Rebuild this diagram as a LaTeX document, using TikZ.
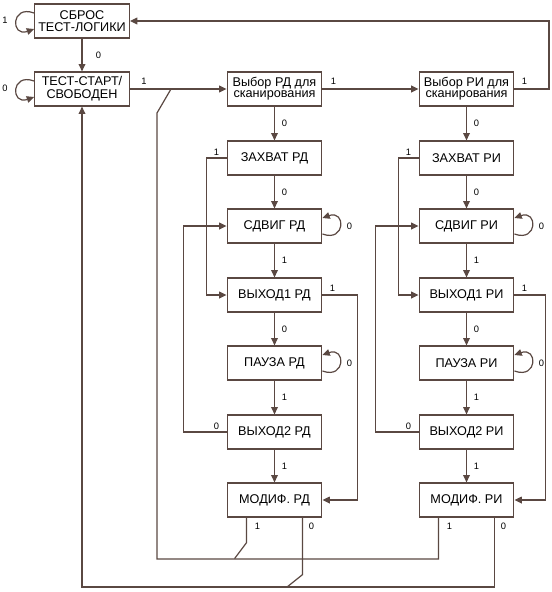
\documentclass[tikz,border=0pt]{standalone}
\usepackage{fontspec}
\setmainfont{Liberation Sans}
\usetikzlibrary{arrows.meta,calc,positioning}
\definecolor{wirecol}{RGB}{90,72,66}

\begin{document}
\begin{tikzpicture}[x=0.75pt,y=0.75pt]
      \tikzset{state/.style={draw=wirecol, line width=0.9pt,
          minimum width=71pt, minimum height=25.5pt,
          inner sep=0pt, align=center,
          font=\fontsize{9.5}{9.5}\selectfont},
        scan state/.style={state, font=\fontsize{9.5}{8}\selectfont},
        lbl/.style={inner sep=0pt, font=\fontsize{7}{7}\selectfont},
        wire/.style={draw=wirecol, line width=0.9pt},
        go/.style={wire, -{Triangle[length=5.5pt,width=5pt]}}
      }
      \useasboundingbox (0,0) rectangle (552,-592);
      \node [state] (reset) at (82,-21) {СБРОС\\ТЕСТ-ЛОГИКИ};
      \node [state] (idle) at (82,-89) {ТЕСТ-СТАРТ/\\СВОБОДЕН};
      \node [scan state] (seldr) at (274.5,-89) {Выбор РД для\\сканирования};
      \node [scan state] (selir) at (466.5,-89) {Выбор РИ для\\сканирования};

      \draw [go] ([yshift=6pt]reset.west) to[out=160,in=200,looseness=4] ([yshift=-6pt]reset.west);
      \node [lbl] (lreset) at (5,-20) {1};
      \draw [go] ([yshift=6pt]idle.west) to[out=160,in=200,looseness=4] ([yshift=-6pt]idle.west);
      \node [lbl] (lidle) at (5,-88) {0};
      \draw [go] (reset) -- (idle) node [lbl, midway, right=10pt] {0};
      \draw [go] (idle) -- (seldr);
      \node [lbl] (lgo) at ($(idle.east)+(14,8)$) {1};
      \draw [go] (seldr) -- (selir);
      \node [lbl] (lsel) at ($(seldr.east)+(11,8)$) {1};
      \coordinate (top) at (549,-21);
      \draw [go] (selir.east) -| (top) -- (reset.east);
      \node [lbl] (lreturn) at ($(selir.east)+(10,8)$) {1};

      \foreach \c/\x/\r/\e in {dr/274.5/РД/35, ir/466.5/РИ/31} {
        \node [state] (cap\c) at (\x,-158) {ЗАХВАТ \r};
        \node [state] (sh\c) at (\x,-226) {СДВИГ \r};
        \node [state] (exa\c) at (\x,-295) {ВЫХОД1 \r};
        \node [state] (pa\c) at (\x,-363) {ПАУЗА \r};
        \node [state] (exb\c) at (\x,-432) {ВЫХОД2 \r};
        \node [state] (up\c) at (\x,-500) {МОДИФ. \r};

        \draw [go] (sel\c) -- (cap\c) node [lbl, midway, right=5pt] {0};
        \draw [go] (cap\c) -- (sh\c) node [lbl, midway, right=5pt] {0};
        \draw [go] (sh\c) -- (exa\c) node [lbl, midway, right=5pt] {1};
        \draw [go] (exa\c) -- (pa\c) node [lbl, midway, right=5pt] {0};
        \draw [go] (pa\c) -- (exb\c) node [lbl, midway, right=5pt] {1};
        \draw [go] (exb\c) -- (up\c) node [lbl, midway, right=5pt] {1};

        \draw [go] (cap\c.west) -- ++(-20,0) |- (exa\c.west);
        \node [lbl] (lcap\c) at ($(cap\c.west)+(-10,6)$) {1};
        \draw [go] (exb\c.west) -- ++(-43,0) |- (sh\c.west);
        \node [lbl] (lexb\c) at ($(exb\c.west)+(-10,6)$) {0};
        \draw [go] (exa\c.east) -- ++(\e,0) |- (up\c.east);
        \node [lbl] (lexa\c) at ($(exa\c.east)+(10,7)$) {1};

        \draw [go] ([yshift=-6pt]sh\c.east) to[out=-20,in=20,looseness=4] ([yshift=6pt]sh\c.east);
        \node [lbl] (lsh\c) at ($(sh\c.east)+(27,0)$) {0};
        \draw [go] ([yshift=-6pt]pa\c.east) to[out=-20,in=20,looseness=4] ([yshift=6pt]pa\c.east);
        \node [lbl] (lpa\c) at ($(pa\c.east)+(27,0)$) {0};

        \node [lbl] (lupa\c) at ($(up\c.south west)+(31,-9)$) {1};
        \node [lbl] (lupb\c) at ($(up\c.south west)+(85,-9)$) {0};
      }

      \coordinate (back1) at (157,-559);
      \coordinate (merge) at (171,-89);
      \draw [wire] ($(upir.south west)+(20,0)$) |- (back1) -- ++(0,446) -- (merge);
      \draw [wire] ($(updr.south west)+(20,0)$) -- ++(0,-25) -- ++(-12,-16);
      \coordinate (back0) at (82,-587);
      \draw [go] ($(upir.south west)+(76,0)$) |- (back0) -- (idle);
      \draw [wire] ($(updr.south west)+(76,0)$) -- ++(0,-57) -- ++(-15,-12);
    \end{tikzpicture}
\end{document}
